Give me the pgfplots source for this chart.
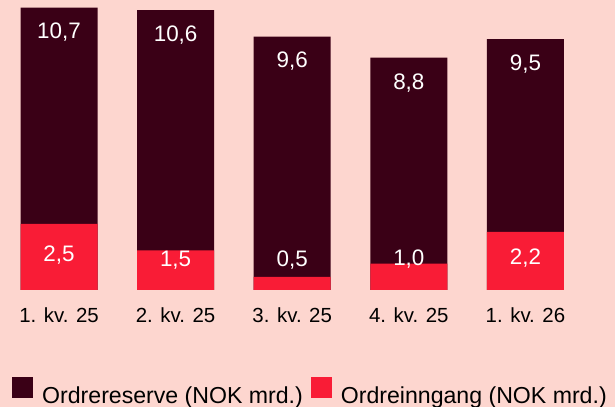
\documentclass[border=0pt]{standalone}
\usepackage{fontspec}
\setmainfont{Liberation Sans}
\usepackage{pgfplots}
\pgfplotsset{compat=1.18}
\definecolor{bgc}{HTML}{FDD6CF}
\definecolor{darkc}{HTML}{3A0016}
\definecolor{redc}{HTML}{F91C36}
\begin{document}
\begin{tikzpicture}
\begin{axis}[
  scale only axis, width=615bp, height=407bp,
  xmin=-0.506, xmax=4.768, ymin=-4.432, ymax=10.985,
  axis line style={draw=none},
  axis background/.style={fill=bgc},
  xtick={0,...,4},
  xticklabels={1. kv. 25, 2. kv. 25, 3. kv. 25, 4. kv. 25, 1. kv. 26},
  major tick length=0pt, ytick=\empty,
  xticklabel style={anchor=base, yshift=84bp, font=\fontsize{20.5}{24}\selectfont, text=black},
  /pgf/number format/.cd, use comma, fixed, fixed zerofill, precision=1, assume math mode=true,
  /pgfplots/.cd,
  legend columns=2,
  legend style={draw=none, fill=none, at={(axis description cs:0.0195,0.0369)}, anchor=west,
    font=\fontsize{23.2}{27}\selectfont, inner sep=0pt,
    /tikz/every odd column/.append style={column sep=7bp},
    /tikz/every even column/.append style={column sep=6bp}},
]
\addplot[ybar, bar width=77bp, bar shift=0pt, fill=darkc, draw=none,
  legend image code/.code={\fill[darkc] (0bp,-3bp) rectangle (21bp,18bp);},
  nodes near coords,
  nodes near coords style={anchor=center, yshift=-25bp, text=white, font=\fontsize{22.5}{26}\selectfont}]
  coordinates {(0,10.7) (1,10.6) (2,9.6) (3,8.8) (4,9.5)};
\addlegendentry{Ordrereserve (NOK mrd.)}
\addplot[ybar, bar width=77bp, bar shift=0pt, fill=redc, draw=none,
  legend image code/.code={\fill[redc] (0bp,-3bp) rectangle (21bp,18bp);}]
  coordinates {(0,2.5) (1,1.5) (2,0.5) (3,1.0) (4,2.2)};
\addlegendentry{Ordreinngang (NOK mrd.)}
\addplot[draw=none, forget plot, point meta=explicit, nodes near coords,
  nodes near coords style={anchor=center, yshift=2bp, text=white, font=\fontsize{22.5}{26}\selectfont}]
  coordinates {(0,1.25)[2.5] (1,1.07)[1.5] (2,1.07)[0.5] (3,1.1)[1.0] (4,1.12)[2.2]};
\end{axis}
\pgfresetboundingbox
\useasboundingbox (current axis.south west) rectangle (current axis.north east);
\end{tikzpicture}
\end{document}
